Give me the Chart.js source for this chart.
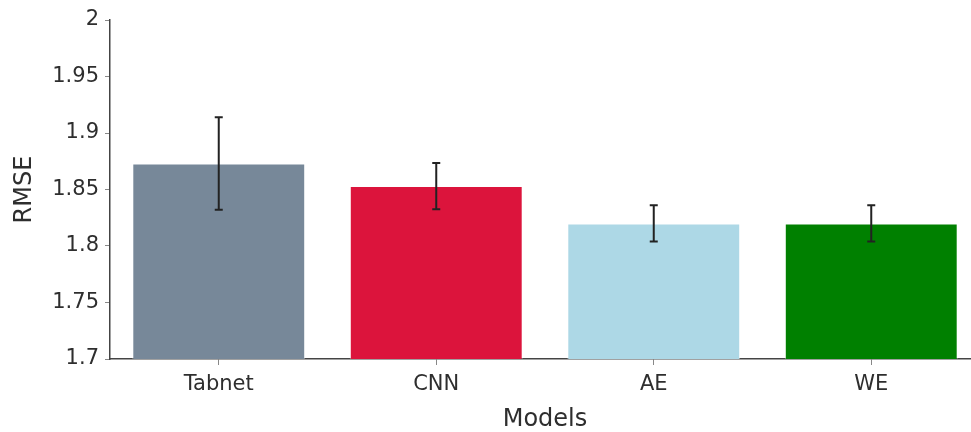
<!DOCTYPE html>
<html>
<head>
<meta charset="utf-8">
<script src="https://cdn.jsdelivr.net/npm/chart.js@4/dist/chart.umd.min.js"></script>
<style>
  html, body { margin: 0; padding: 0; background: #fff; overflow: hidden; }
  #wrap { position: relative; width: 980px; height: 432px; }
</style>
</head>
<body>
<div id="wrap"><canvas id="chart"></canvas></div>
<script>
// Mean RMSE per model with its spread (± error)
const models = ['Tabnet', 'CNN', 'AE', 'WE'];
const rmse = [1.873, 1.853, 1.820, 1.820];
const rmseErr = [0.041, 0.0205, 0.016, 0.016];
const barColors = ['#778899', '#DC143C', '#ADD8E6', '#008000'];

const yMin = 1.7, yMax = 2.0, yStep = 0.05;

const inkColor = '#2e2e2e';
const axisColor = '#444444';
const fontFamily = '"DejaVu Sans", Verdana, sans-serif';

// Draws symmetric error bars centred on each bar
const errorBars = {
  id: 'errorBars',
  afterDatasetsDraw(chart) {
    const meta = chart.getDatasetMeta(0);
    const y = chart.scales.y;
    const ctx = chart.ctx;
    ctx.save();
    ctx.strokeStyle = '#222222';
    ctx.lineWidth = 2;
    meta.data.forEach((bar, i) => {
      const yTop = y.getPixelForValue(rmse[i] + rmseErr[i]);
      const yBot = y.getPixelForValue(rmse[i] - rmseErr[i]);
      const cx = bar.x;
      const cap = 4;
      ctx.beginPath();
      ctx.moveTo(cx, yTop); ctx.lineTo(cx, yBot);
      ctx.moveTo(cx - cap, yTop); ctx.lineTo(cx + cap, yTop);
      ctx.moveTo(cx - cap, yBot); ctx.lineTo(cx + cap, yBot);
      ctx.stroke();
    });
    ctx.restore();
  }
};

new Chart(document.getElementById('chart'), {
  type: 'bar',
  data: {
    labels: models,
    datasets: [{
      data: rmse,
      backgroundColor: barColors,
      borderColor: 'rgba(255,255,255,0.45)',
      borderWidth: 1,
      barPercentage: 0.795,
      categoryPercentage: 1.0
    }]
  },
  options: {
    responsive: true,
    maintainAspectRatio: false,
    animation: false,
    layout: { padding: { top: 20, left: 0, right: 0, bottom: 0 } },
    plugins: { legend: { display: false }, tooltip: { enabled: false } },
    scales: {
      x: {
        offset: true,
        afterFit(scale) { scale.height = 73; },
        border: { display: true, color: axisColor, width: 1.5 },
        grid: { offset: false, drawOnChartArea: false, drawTicks: true, tickLength: 6, color: '#888888' },
        ticks: { color: inkColor, padding: 7, font: { family: fontFamily, size: 21 } },
        title: {
          display: true, text: 'Models', color: inkColor,
          font: { family: fontFamily, size: 24 }, padding: { top: 0, bottom: -2 }
        }
      },
      y: {
        min: yMin, max: yMax,
        afterFit(scale) { scale.width = 110; },
        border: { display: true, color: axisColor, width: 1.5 },
        grid: { drawOnChartArea: false, drawTicks: true, tickLength: 5, color: '#888888' },
        ticks: {
          stepSize: yStep, color: inkColor, padding: 6,
          font: { family: fontFamily, size: 21 },
          callback: v => String(+v.toFixed(2))
        },
        title: {
          display: true, text: 'RMSE', color: inkColor,
          font: { family: fontFamily, size: 24 }, padding: { top: 10, bottom: 0 }
        }
      }
    }
  },
  plugins: [errorBars]
});
</script>
</body>
</html>
